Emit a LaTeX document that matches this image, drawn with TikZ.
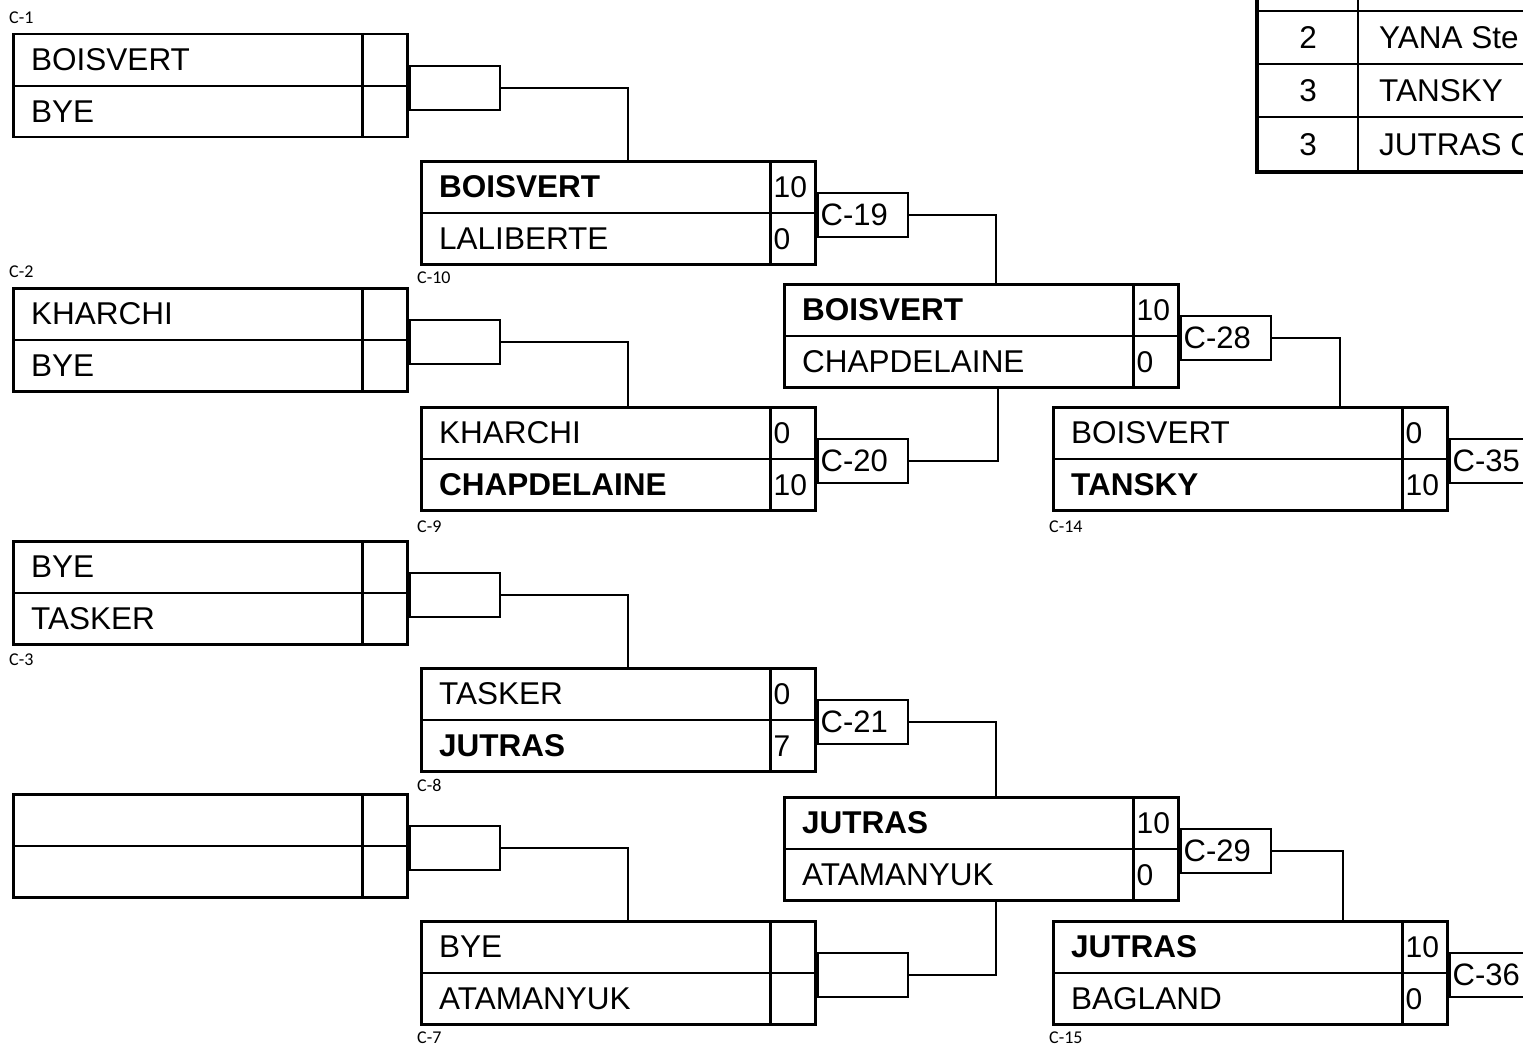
\documentclass[tikz,border=0pt]{standalone}
\usepackage{fontspec}
\setmainfont{Liberation Sans}
\newfontfamily\carl{Carlito}
\usetikzlibrary{calc}
\tikzset{
  box/.style={draw, line width=2.5pt, minimum width=394pt, minimum height=103pt, inner sep=0pt, anchor=north west},
  divl/.style={line width=2.4pt},
  wire/.style={line width=2.4pt},
  nm/.style={anchor=west, inner sep=0pt, text height=22pt, text depth=0pt, font=\fontsize{31.5}{36}\selectfont},
  sc/.style={anchor=west, inner sep=0pt, text height=21pt, text depth=0pt, font=\fontsize{30}{34}\selectfont},
  cb/.style={draw, line width=2.4pt, minimum height=44pt, inner xsep=3pt, inner ysep=0pt, text width=84pt, align=left, anchor=west, font=\fontsize{31}{34}\selectfont},
  lbl/.style={anchor=west, inner sep=0pt, font=\carl\fontsize{18}{20}\selectfont},
  tb/.style={inner sep=0pt, text height=22pt, text depth=0pt, font=\fontsize{31.5}{36}\selectfont},
}
\newcommand{\bkt}[7]{%
  \node[box] (#1) at (#2,#3) {};
  \draw[divl] (#1.west) -- (#1.east);
  \draw[divl] ($(#1.north east)+(-46pt,0)$) -- ($(#1.south east)+(-46pt,0)$);
  \node[nm] (#1-t) at ($(#1.west)+(19pt,26pt)$) {#4};
  \node[nm] (#1-b) at ($(#1.west)+(19pt,-26pt)$) {#5};
  \node[sc] (#1-ts) at ($(#1.east)+(-43pt,26pt)$) {#6};
  \node[sc] (#1-bs) at ($(#1.east)+(-43pt,-26pt)$) {#7};
}
\begin{document}
\begin{tikzpicture}[x=1pt,y=-1pt]
\useasboundingbox (0,0) rectangle (1523,1046);
\clip (0,0) rectangle (1523,1046);
\fill[white] (0,0) rectangle (1523,1046);

% first column
\bkt{a1}{12}{33}{BOISVERT}{BYE}{}{}
\bkt{a2}{12}{287}{KHARCHI}{BYE}{}{}
\bkt{a3}{12}{540}{BYE}{TASKER}{}{}
\bkt{a4}{12}{793}{}{}{}{}

% second column
\bkt{c10}{420}{160}{\textbf{BOISVERT}}{LALIBERTE}{10}{0}
\bkt{c9}{420}{406}{KHARCHI}{\textbf{CHAPDELAINE}}{0}{10}
\bkt{c8}{420}{667}{TASKER}{\textbf{JUTRAS}}{0}{7}
\bkt{c7}{420}{920}{BYE}{ATAMANYUK}{}{}

% third column
\bkt{r2a}{783}{283}{\textbf{BOISVERT}}{CHAPDELAINE}{10}{0}
\bkt{r2b}{783}{796}{\textbf{JUTRAS}}{ATAMANYUK}{10}{0}

% fourth column
\bkt{c14}{1052}{406}{BOISVERT}{\textbf{TANSKY}}{0}{10}
\bkt{c15}{1052}{920}{\textbf{JUTRAS}}{BAGLAND}{10}{0}

% labels
\node[lbl] (l1) at (9,18) {C-1};
\node[lbl] (l2) at (9,272) {C-2};
\node[lbl] (l3) at (9,660) {C-3};
\node[lbl] (l10) at (417,278) {C-10};
\node[lbl] (l9) at (417,527) {C-9};
\node[lbl] (l8) at (417,785) {C-8};
\node[lbl] (l7) at (417,1038) {C-7};
\node[lbl] (l14) at (1049,527) {C-14};
\node[lbl] (l15) at (1049,1038) {C-15};

% connector boxes
\node[cb] (k1) at ($(a1.east)+(0,-2pt)$) {};
\node[cb] (k2) at ($(a2.east)+(0,-2pt)$) {};
\node[cb] (k3) at ($(a3.east)+(0,-2pt)$) {};
\node[cb] (k4) at ($(a4.east)+(0,-2pt)$) {};
\node[cb] (k19) at ($(c10.east)+(0,-2pt)$) {C-19};
\node[cb] (k20) at ($(c9.east)+(0,-2pt)$) {C-20};
\node[cb] (k21) at ($(c8.east)+(0,-2pt)$) {C-21};
\node[cb] (k7) at ($(c7.east)+(0,-2pt)$) {};
\node[cb] (k28) at ($(r2a.east)+(0,-2pt)$) {C-28};
\node[cb] (k29) at ($(r2b.east)+(0,-2pt)$) {C-29};
\node[cb] (k35) at ($(c14.east)+(0,-2pt)$) {C-35};
\node[cb] (k36) at ($(c15.east)+(0,-2pt)$) {C-36};

% wires
\draw[wire] (k1.east) -| ($(c10.north west)+(208pt,0)$);
\draw[wire] (k2.east) -| ($(c9.north west)+(208pt,0)$);
\draw[wire] (k3.east) -| ($(c8.north west)+(208pt,0)$);
\draw[wire] (k4.east) -| ($(c7.north west)+(208pt,0)$);
\draw[wire] (k19.east) -| ($(r2a.north west)+(213pt,0)$);
\draw[wire] (k20.east) -| ($(r2a.south west)+(215pt,0)$);
\draw[wire] (k21.east) -| ($(r2b.north west)+(213pt,0)$);
\draw[wire] (k7.east) -| ($(r2b.south west)+(213pt,0)$);
\draw[wire] (k28.east) -| ($(c14.north west)+(288pt,0)$);
\draw[wire] (k29.east) -| ($(c15.north west)+(291pt,0)$);

% standings table
\draw[line width=2.4pt] (1358,-10) -- (1358,173);
\draw[line width=2.4pt] (1257,11) -- (1540,11);
\draw[line width=2.4pt] (1257,64) -- (1540,64);
\draw[line width=2.4pt] (1257,117) -- (1540,117);
\draw[line width=4pt] (1257,-10) rectangle (1560,172);
\node[tb] (t2) at (1308,38) {2};
\node[tb, anchor=west] (t2n) at (1379,38) {YANA Ste};
\node[tb] (t3) at (1308,91) {3};
\node[tb, anchor=west] (t3n) at (1379,91) {TANSKY};
\node[tb] (t4) at (1308,145) {3};
\node[tb, anchor=west] (t4n) at (1379,145) {JUTRAS C};
\end{tikzpicture}
\end{document}
